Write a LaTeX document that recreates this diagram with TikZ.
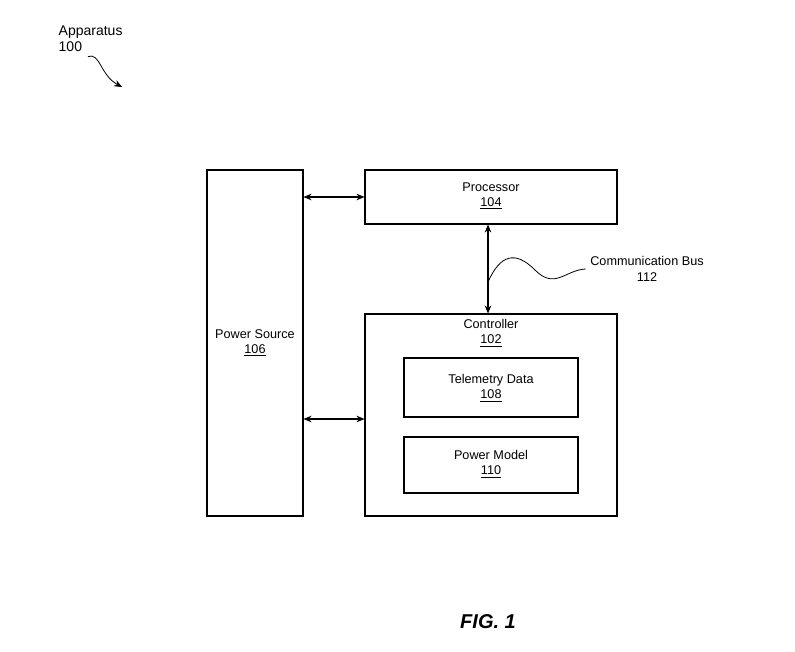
\documentclass[tikz,border=0pt]{standalone}
\usepackage{fontspec}
\setmainfont{Liberation Sans}
\usetikzlibrary{positioning,arrows.meta}

\tikzset{
    block/.style={draw, thick, inner sep=0pt},
    lbl/.style={font=\fontsize{9.5}{11.5}\selectfont, align=center},
    link/.style={thick, {Stealth[length=6pt,width=5pt]}-{Stealth[length=6pt,width=5pt]}}
}

\begin{document}
\begin{tikzpicture}[x=0.75pt, y=-0.75pt]
    \useasboundingbox (0,0) rectangle (795,652);

    % blocks
    \node[block, minimum width=96*0.75pt, minimum height=346*0.75pt] (source) at (255,343) {};
    \node[block, minimum width=252*0.75pt, minimum height=54*0.75pt] (proc) at (491,197) {};
    \node[block, minimum width=252*0.75pt, minimum height=202*0.75pt] (ctrl) at (491,415) {};
    \node[block, minimum width=174*0.75pt, minimum height=59*0.75pt] (telem) at (491,387.5) {};
    \node[block, minimum width=174*0.75pt, minimum height=56*0.75pt] (model) at (491,465) {};

    % labels
    \node[lbl] at (255,343) {Power Source\\\underline{106}};
    \node[lbl] at (491,196) {Processor\\\underline{104}};
    \node[lbl] at (491,333) {Controller\\\underline{102}};
    \node[lbl] at (491,388) {Telemetry Data\\\underline{108}};
    \node[lbl] at (491,464) {Power Model\\\underline{110}};
    \node[lbl] (bus) at (647,269) {Communication Bus\\112};
    \node[lbl, font=\fontsize{10.5}{12}\selectfont, align=left, anchor=west] (app) at (54,39) {Apparatus\\100};
    \node[font=\fontsize{15}{18}\selectfont\bfseries\itshape] (fig) at (488,622) {FIG. 1};

    % connectors
    \draw[link] (source.east |- proc.west) -- (proc.west);
    \draw[link] (source.east |- 0,419) -- (ctrl.west |- 0,419);
    \draw[link] (proc.south -| 488,0) -- (ctrl.north -| 488,0);
    \draw[semithick] (488,282) .. controls (500,255) and (515,250) .. (535,270)
        .. controls (555,290) and (565,270) .. (bus.west);
    \draw[semithick, -{Stealth[length=6pt,width=5pt]}] (app.south west) ++(34,0) .. controls (100,52) and (100,75) .. (122,87);
\end{tikzpicture}
\end{document}
